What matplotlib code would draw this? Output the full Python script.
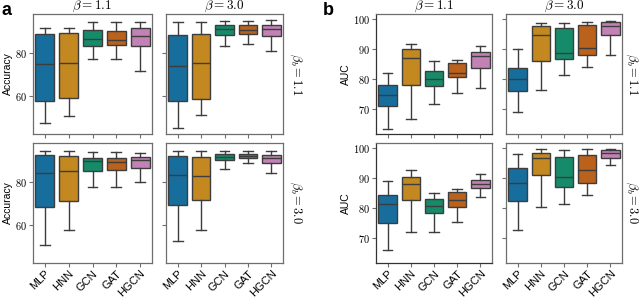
import colorsys
import matplotlib
matplotlib.use("Agg")
import matplotlib.pyplot as plt
import matplotlib.colors as mcolors
from matplotlib.ticker import FuncFormatter

plt.rcParams['mathtext.fontset'] = 'cm'
plt.rcParams['font.family'] = ['Liberation Sans', 'DejaVu Sans']

models = ["MLP", "HNN", "GCN", "GAT", "HGCN"]
betas = ["1.1", "3.0"]

# box stats per panel: [whislo, q1, med, q3, whishi] for each model
# accuracy, rows = beta_b, cols = beta
acc_b11_b11 = [[47.7, 57.8, 74.6, 88.6, 91.3], [50.9, 59.2, 75.2, 89.2, 91.3],
               [76.9, 83.1, 86.5, 90.2, 94.0], [77.2, 83.4, 85.9, 89.9, 94.0],
               [71.4, 83.1, 87.6, 91.4, 94.0]]
acc_b30_b11 = [[45.1, 57.7, 74.0, 88.2, 94.0], [51.1, 58.8, 75.2, 88.8, 94.0],
               [83.2, 88.3, 90.8, 92.9, 94.8], [84.2, 88.8, 90.6, 92.9, 94.8],
               [80.8, 87.7, 90.8, 92.6, 95.1]]
acc_b11_b30 = [[51.0, 68.5, 84.2, 92.3, 94.1], [57.5, 71.3, 84.8, 91.6, 94.2],
               [77.5, 85.1, 89.3, 91.0, 93.5], [77.6, 85.3, 89.0, 90.7, 93.5],
               [79.7, 86.3, 90.1, 91.5, 93.4]]
acc_b30_b30 = [[52.6, 69.4, 83.1, 91.8, 94.0], [57.5, 71.4, 82.5, 91.5, 94.0],
               [85.7, 90.1, 91.5, 92.7, 94.0], [88.8, 90.7, 91.8, 92.7, 94.0],
               [83.9, 88.8, 91.0, 92.4, 94.2]]
# AUC
auc_b11_b11 = [[63.6, 71.1, 74.7, 78.0, 82.0], [66.7, 78.2, 87.1, 90.1, 91.9],
               [71.8, 77.7, 80.2, 82.8, 86.2], [75.4, 80.8, 82.1, 85.6, 86.3],
               [77.2, 83.7, 87.9, 89.1, 91.2]]
auc_b30_b11 = [[69.2, 76.2, 80.0, 83.9, 90.0], [76.3, 86.2, 94.8, 97.8, 98.7],
               [81.4, 86.7, 88.8, 97.3, 98.7], [84.2, 88.0, 90.3, 98.1, 99.0],
               [88.1, 94.8, 97.9, 99.2, 99.6]]
auc_b11_b30 = [[66.2, 75.2, 81.6, 84.3, 89.1], [72.1, 82.7, 88.0, 90.6, 92.7],
               [72.2, 78.4, 80.7, 83.2, 85.0], [75.4, 80.4, 82.8, 85.3, 86.5],
               [83.8, 86.7, 88.0, 89.4, 91.6]]
auc_b30_b30 = [[72.8, 82.5, 88.3, 93.4, 98.0], [80.5, 91.0, 96.8, 98.6, 99.7],
               [81.6, 87.0, 90.6, 97.1, 99.4], [84.5, 88.6, 92.7, 97.8, 99.7],
               [94.4, 96.8, 98.3, 99.4, 99.7]]

acc_grid = [[acc_b11_b11, acc_b30_b11], [acc_b11_b30, acc_b30_b30]]
auc_grid = [[auc_b11_b11, auc_b30_b11], [auc_b11_b30, auc_b30_b30]]

palette = ["#0173B2", "#DE8F05", "#029E73", "#D55E00", "#CC78BC"]


def desat(c, s=0.75):
    h, l, sat = colorsys.rgb_to_hls(*mcolors.to_rgb(c))
    return colorsys.hls_to_rgb(h, l, sat * s)


colors = [desat(c) for c in palette]
edge = "#3d3d3d"
spine_c = "#6e6e6e"

fig = plt.figure(figsize=(6.4, 2.99), dpi=100)
W, H = 640, 299


def px_axes(x0, x1, y0, y1):
    return fig.add_axes([x0 / W, 1 - y1 / H, (x1 - x0) / W, (y1 - y0) / H])


cols_a = [(33, 152), (166, 283)]
cols_b = [(376, 492), (506, 622)]
rows = [(14, 134), (143, 263)]

mathfmt = FuncFormatter(lambda v, p: f"${v:g}$")


def draw(ax, stats):
    bx = [dict(whislo=s[0], q1=s[1], med=s[2], q3=s[3], whishi=s[4], label=m)
          for s, m in zip(stats, models)]
    art = ax.bxp(bx, positions=range(5), widths=0.8, patch_artist=True,
                 showfliers=False, capwidths=0.42,
                 boxprops=dict(edgecolor=edge, linewidth=1.0),
                 medianprops=dict(color=edge, linewidth=1.0),
                 whiskerprops=dict(color=edge, linewidth=1.0),
                 capprops=dict(color=edge, linewidth=1.0))
    for patch, c in zip(art["boxes"], colors):
        patch.set_facecolor(c)
    ax.set_xlim(-0.5, 4.5)
    for sp in ax.spines.values():
        sp.set_color(spine_c)
        sp.set_linewidth(0.9)
    ax.tick_params(axis="both", length=3, width=0.8, color=spine_c, labelsize=7.5, pad=1)


for grid, cols, ylim, yticks, ylab, letter, lx, rx in [
        (acc_grid, cols_a, (42.5, 97.8), [60, 80], "Accuracy", "a", 1, 1.04),
        (auc_grid, cols_b, (61.8, 101.8), [70, 80, 90, 100], "AUC", "b", 323, 1.02)]:
    for r, (y0, y1) in enumerate(rows):
        for c, (x0, x1) in enumerate(cols):
            ax = px_axes(x0, x1, y0, y1)
            draw(ax, grid[r][c])
            ax.set_ylim(*ylim)
            ax.set_yticks(yticks)
            if c == 0:
                ax.yaxis.set_major_formatter(mathfmt)
                ax.set_ylabel(ylab, fontsize=7.5, labelpad=2)
                if letter == "b":
                    ax.spines["left"].set_color("#333333")
                    ax.spines["bottom"].set_color("#333333")
            else:
                ax.set_yticklabels([])
            if r == 0:
                ax.set_xticklabels([])
                ax.set_title(r"$\beta = %s$" % betas[c], fontsize=9.5, pad=1)
            else:
                ax.set_xticklabels(models, rotation=45, ha="right",
                                   rotation_mode="anchor", fontsize=8)
            if c == 1:
                ax.text(rx, 0.5, r"$\beta_b = %s$" % betas[r], transform=ax.transAxes,
                        rotation=-90, va="center", ha="left", fontsize=9)
    fig.text(lx / W, 1 - 2 / H, letter, fontsize=13, fontweight="bold", va="top", ha="left")

fig.savefig("out.png", dpi=100)
